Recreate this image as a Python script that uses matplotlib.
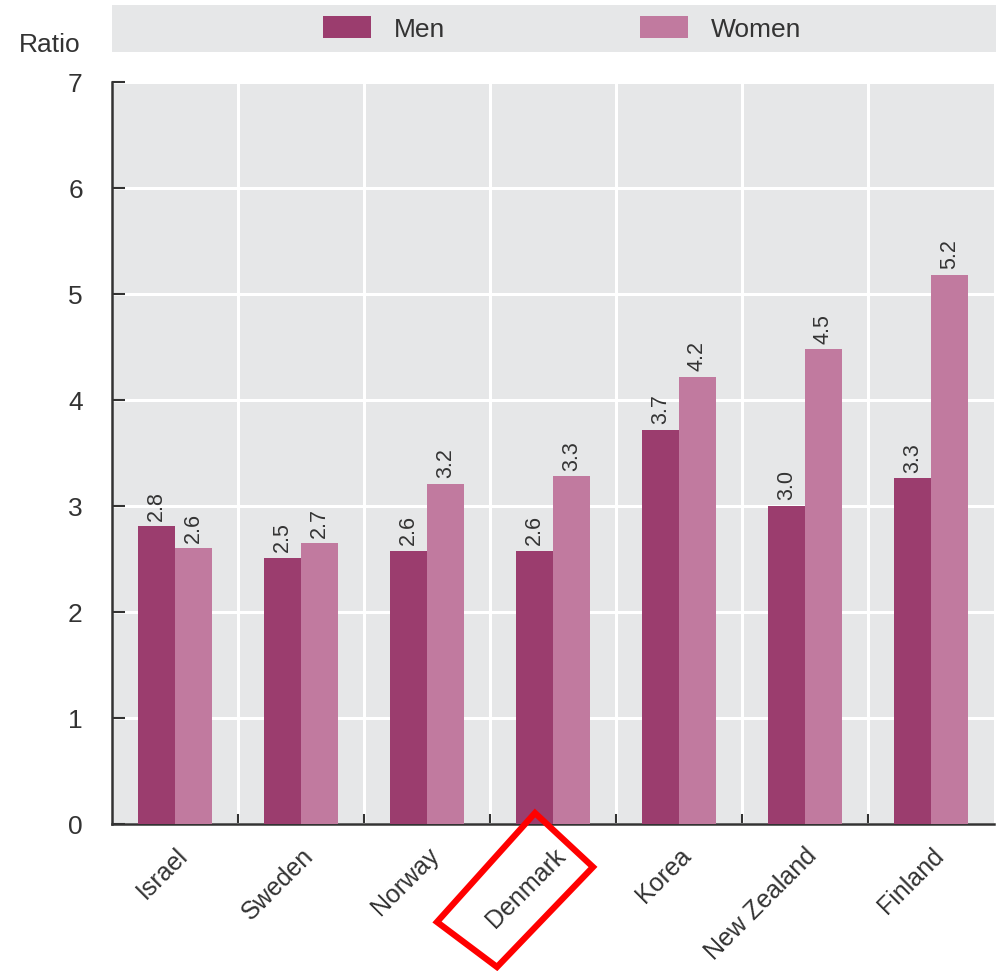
import numpy as np
import matplotlib.pyplot as plt
from matplotlib.patches import Polygon, Rectangle

countries = ["Israel", "Sweden", "Norway", "Denmark", "Korea", "New Zealand", "Finland"]
men = [2.81, 2.51, 2.58, 2.58, 3.72, 3.00, 3.26]
women = [2.60, 2.65, 3.21, 3.28, 4.22, 4.48, 5.18]
men_labels = ["2.8", "2.5", "2.6", "2.6", "3.7", "3.0", "3.3"]
women_labels = ["2.6", "2.7", "3.2", "3.3", "4.2", "4.5", "5.2"]

plt.rcParams['font.family'] = ['Liberation Sans Narrow', 'Liberation Sans', 'DejaVu Sans']
TXT = "#333333"
C_MEN = "#9b3d6e"
C_WOMEN = "#c17a9f"
BG = "#e6e7e8"

W, H = 996, 971
fig = plt.figure(figsize=(W / 100, H / 100), dpi=100)

def fx(px):
    return px / W

def fy(py):
    return 1 - py / H

ax = fig.add_axes([fx(112), fy(824), fx(994) - fx(112), fy(82) - fy(824)])
ax.set_facecolor(BG)

x = np.arange(len(countries))
bw = 0.29
b1 = ax.bar(x - bw / 2, men, bw, color=C_MEN, label="Men", zorder=3)
b2 = ax.bar(x + bw / 2, women, bw, color=C_WOMEN, label="Women", zorder=3)

for bars, labs in ((b1, men_labels), (b2, women_labels)):
    for r, lab in zip(bars, labs):
        ax.annotate(lab, (r.get_x() + r.get_width() / 2, r.get_height()),
                    xytext=(0, 4), textcoords="offset points", rotation=90,
                    ha="center", va="bottom", fontsize=15.5, color=TXT)

ax.set_xlim(-0.5, len(countries) - 0.5)
ax.set_ylim(0, 7)
ax.set_yticks(range(8))
ax.set_xticks(x)
ax.set_xticklabels(countries, rotation=45, ha="right", rotation_mode="anchor")
ax.set_xticks(np.arange(0.5, len(countries) - 0.5), minor=True)

ax.tick_params(axis="y", direction="in", length=9, width=1.5, color=TXT,
               labelsize=19, labelcolor=TXT, pad=21)
ax.tick_params(axis="x", which="major", length=0, labelsize=18, labelcolor=TXT, pad=14)
ax.tick_params(axis="x", which="minor", direction="in", length=7, width=1.5, color=TXT)

ax.grid(axis="y", color="white", linewidth=2.2, zorder=0)
ax.grid(axis="x", which="minor", color="white", linewidth=2.2, zorder=0)
ax.set_axisbelow(True)

for s in ("top", "right"):
    ax.spines[s].set_visible(False)
for s in ("left", "bottom"):
    ax.spines[s].set_color(TXT)
    ax.spines[s].set_linewidth(1.8)

# grey band with the legend
fig.patches.append(Rectangle((fx(112), fy(52)), fx(996) - fx(112), fy(5) - fy(52),
                             transform=fig.transFigure, facecolor=BG, edgecolor="none"))
fig.legend(handles=[b1, b2], loc="center", bbox_to_anchor=(fx(562), fy(29)), ncol=2,
           frameon=False, fontsize=19, labelcolor=TXT, handlelength=1.8,
           handleheight=0.9, handletextpad=0.87, columnspacing=7.4)

fig.text(fx(50), fy(45), "Ratio", fontsize=19, color=TXT, ha="center", va="center")

# red box around Denmark
corners = [(535, 813), (593, 867), (497, 967), (437, 922)]
fig.patches.append(Polygon([(fx(a), fy(b)) for a, b in corners], closed=True,
                           transform=fig.transFigure, fill=False,
                           edgecolor="#ff0000", linewidth=4.5))

fig.savefig("out.png", dpi=100)
